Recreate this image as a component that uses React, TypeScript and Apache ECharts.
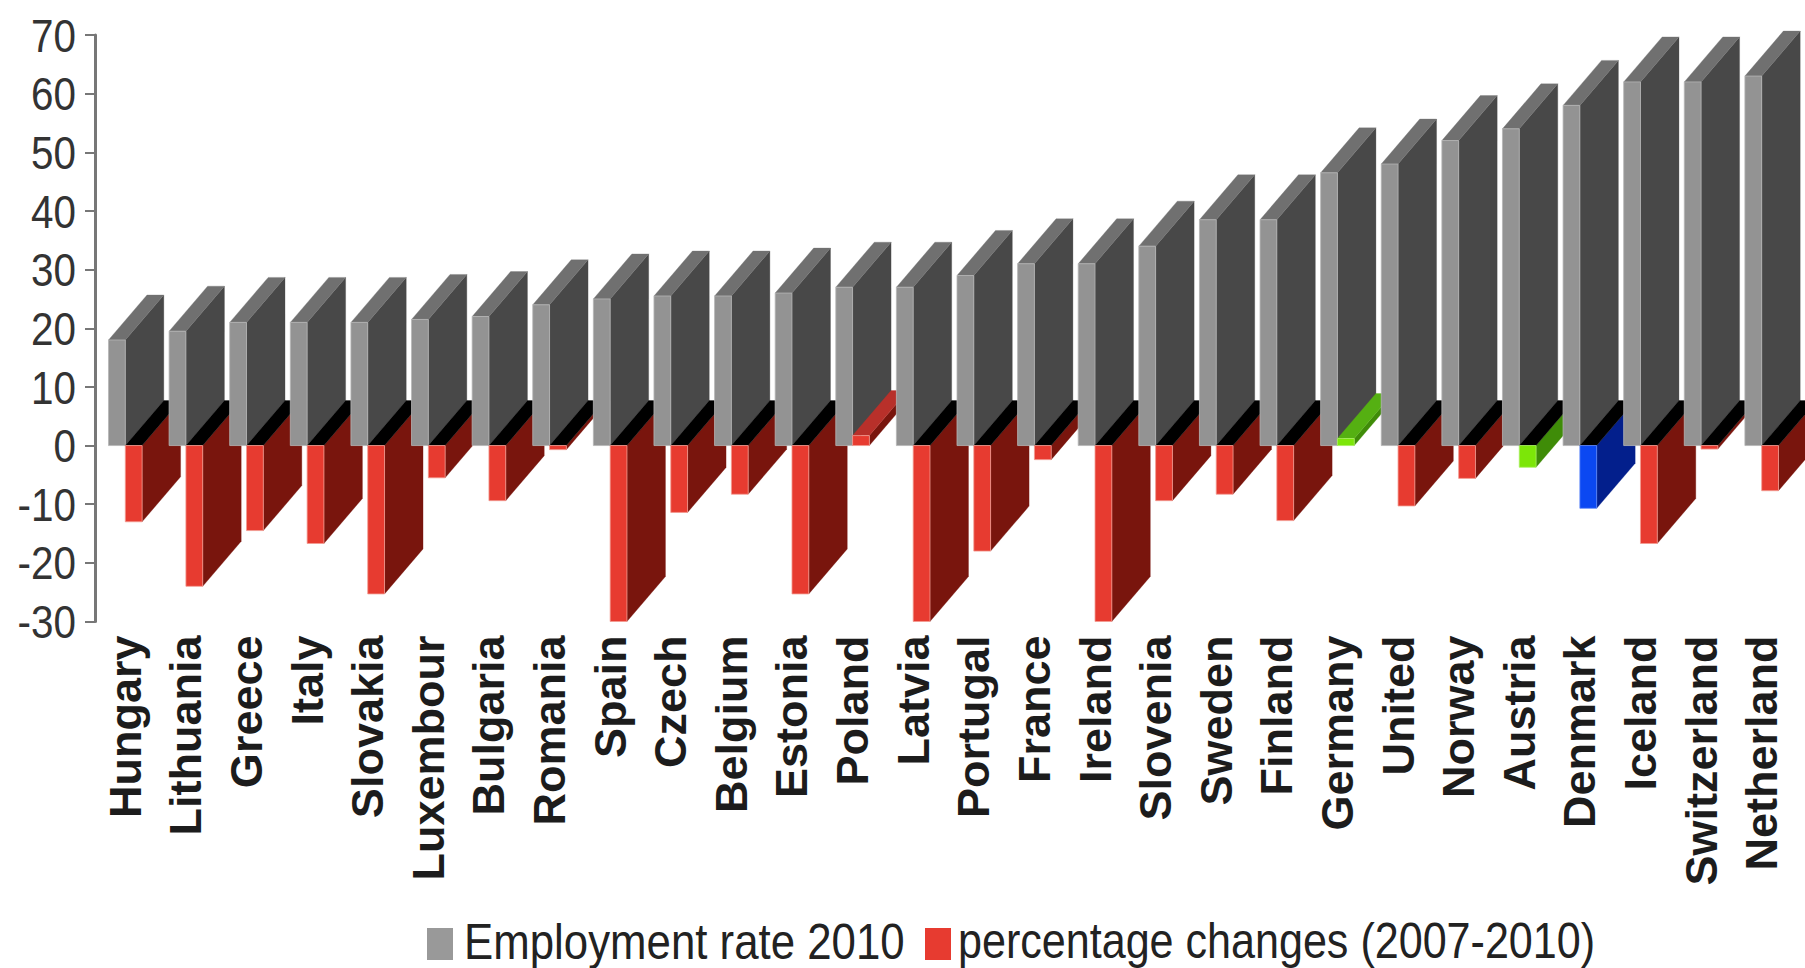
import React, { useEffect, useRef } from "react";
import * as echarts from "echarts";

const categories = ["Hungary","Lithuania","Greece","Italy","Slovakia","Luxembour","Bulgaria","Romania","Spain","Czech","Belgium","Estonia","Poland","Latvia","Portugal","France","Ireland","Slovenia","Sweden","Finland","Germany","United","Norway","Austria","Denmark","Iceland","Switzerland","Netherland"];
const employmentRate = [18,19.5,21,21,21,21.5,22,24,25,25.5,25.5,26,27,27,29,31,31,34,38.5,38.5,46.5,48,52,54,58,62,62,63];
const percentageChanges = [-13,-24,-14.5,-16.7,-25.3,-5.5,-9.4,-0.7,-30,-11.4,-8.3,-25.3,1.7,-30,-18,-2.4,-30,-9.4,-8.3,-12.8,1.2,-10.3,-5.6,-3.7,-10.7,-16.7,-0.6,-7.7];
const yTicks = [-30,-20,-10,0,10,20,30,40,50,60,70];
const seriesNames = ["Employment rate 2010", "percentage changes (2007-2010)"];
const greenCountries = ["Germany","Austria"];
const blueCountries = ["Denmark"];

const FONT = '"Liberation Sans",Arial,sans-serif';
const BAR_W = 16.8, DX = 38.5, DY = 45;

const palette = {
  grey: { front: "#939393", side: "#484848", top: "#707070", edge: "#b5b5b5" },
  red: { front: "#e73b30", side: "#79150d", top: "#b8302a", edge: "#f39a90" },
  green: { front: "#7ce608", side: "#3f8c08", top: "#55b012", edge: "#a8f060" },
  blue: { front: "#0b48f2", side: "#031f8c", top: "#0a2fc0", edge: "#5f88f8" },
};

function bar3d(api: any, order: number, left: number, c: any) {
  const idx = api.value(0) as number;
  const val = api.value(1) as number;
  const p0 = api.coord([idx, 0]);
  const pv = api.coord([idx, val]);
  const x0 = p0[0] + left;
  const x1 = x0 + BAR_W;
  const y0 = p0[1];
  const yv = pv[1];
  const z = idx * 10 + order * 5;
  const poly = (points: number[][], fill: string, z2: number, stroke?: string) => ({
    type: "polygon",
    z2,
    shape: { points },
    style: { fill, stroke: stroke || fill, lineWidth: stroke ? 0.8 : 0.3 },
  });
  const capY = val >= 0 ? yv : y0;
  const capFill = val >= 0 ? c.top : "#000000";
  return {
    type: "group",
    children: [
      poly([[x1, y0], [x1 + DX, y0 - DY], [x1 + DX, yv - DY], [x1, yv]], c.side, z),
      poly([[x0, capY], [x1, capY], [x1 + DX, capY - DY], [x0 + DX, capY - DY]], capFill, z + 1),
      poly([[x0, y0], [x1, y0], [x1, yv], [x0, yv]], c.front, z + 2, c.edge),
    ],
  };
}

export default function App() {
  const ref = useRef<HTMLDivElement>(null);
  useEffect(() => {
    document.body.style.margin = "0";
    const chart = echarts.init(ref.current!, null, { renderer: "svg" });
    chart.setOption({
      animation: false,
      backgroundColor: "#ffffff",
      grid: { left: 95, top: 35, width: 1697, height: 586.5, containLabel: false },
      xAxis: {
        type: "category",
        data: categories,
        position: "bottom",
        axisLine: { show: false, onZero: false },
        axisTick: { show: false },
        axisLabel: {
          interval: 0, rotate: 90, margin: 14, hideOverlap: false,
          padding: [0, 0, 9, 0],
          fontFamily: FONT, fontWeight: "bold", fontSize: 45, color: "#1c1c1c",
        },
      },
      yAxis: {
        type: "value", min: -30, max: 70, interval: 10,
        splitLine: { show: false },
        axisLine: { show: true, onZero: false, lineStyle: { color: "#777777", width: 3 } },
        axisTick: { show: true, length: 10, lineStyle: { color: "#777777", width: 2 } },
        axisLabel: { show: false },
      },
      series: [
        {
          name: seriesNames[0],
          type: "custom",
          clip: false,
          itemStyle: { color: "#999999" },
          encode: { x: 0, y: 1 },
          data: employmentRate.map((v, i) => [i, v]),
          renderItem: (_p: any, api: any) => bar3d(api, 0, -BAR_W, palette.grey),
        },
        {
          name: seriesNames[1],
          type: "custom",
          clip: false,
          itemStyle: { color: "#e73b30" },
          encode: { x: 0, y: 1 },
          data: percentageChanges.map((v, i) => [i, v]),
          renderItem: (p: any, api: any) => {
            const name = categories[p.dataIndex];
            const c = greenCountries.includes(name) ? palette.green : blueCountries.includes(name) ? palette.blue : palette.red;
            return bar3d(api, 1, 0, c);
          },
        },
      ],
    });
    // The reference's labels are horizontally condensed: no narrow font is installed, so scale real text.
    const tickTexts = yTicks.map((v) => ({
      type: "text",
      x: 76,
      y: chart.convertToPixel({ yAxisIndex: 0 }, v) as number,
      scaleX: 0.86,
      style: { text: String(v), align: "right", verticalAlign: "middle", fontFamily: FONT, fontSize: 47, fill: "#333333" },
    }));
    const legendItems = [
      { type: "rect", shape: { x: 427, y: 928, width: 26, height: 32 }, style: { fill: "#999999" } },
      { type: "text", x: 464, y: 941, scaleX: 0.876, style: { text: seriesNames[0], align: "left", verticalAlign: "middle", fontFamily: FONT, fontSize: 50, fill: "#222222" } },
      { type: "rect", shape: { x: 925, y: 928, width: 26, height: 32 }, style: { fill: "#e73b30" } },
      { type: "text", x: 958, y: 941, scaleX: 0.862, style: { text: seriesNames[1], align: "left", verticalAlign: "middle", fontFamily: FONT, fontSize: 50, fill: "#222222" } },
    ];
    chart.setOption({ graphic: { elements: [...tickTexts, ...legendItems] } });
    return () => chart.dispose();
  }, []);
  return <div ref={ref} style={{ width: 1805, height: 968 }} />;
}
